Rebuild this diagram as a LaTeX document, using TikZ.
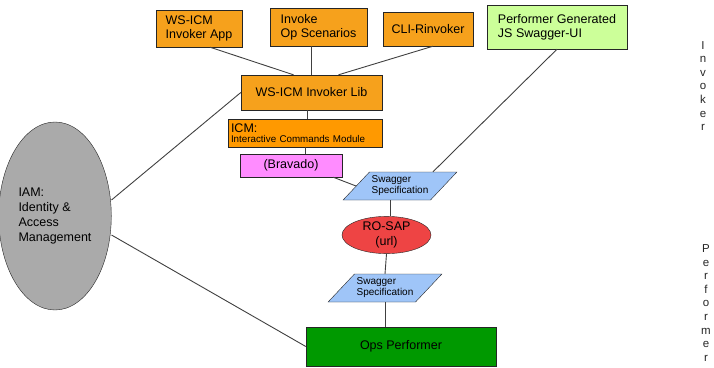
\documentclass[tikz,border=0pt]{standalone}
\usepackage{fontspec}
\setmainfont{Liberation Sans}
\usetikzlibrary{shapes.geometric}
\definecolor{invorange}{HTML}{F6A11C}
\definecolor{icmorange}{HTML}{FF9900}
\definecolor{uigreen}{HTML}{CCFF99}
\definecolor{bravpink}{HTML}{FF8CFF}
\definecolor{specblue}{HTML}{9FC5F8}
\definecolor{sapred}{HTML}{EE4444}
\definecolor{perfgreen}{HTML}{009900}
\definecolor{iamgray}{HTML}{AAAAAA}
\tikzstyle{invoker} = [rectangle, draw=black!85, fill=invorange, align=left, font=\fontsize{12.5}{14}\selectfont]
\tikzstyle{uibox} = [rectangle, draw=black!85, fill=uigreen, align=left, font=\fontsize{12.5}{14}\selectfont]
\tikzstyle{icmbox} = [rectangle, draw=black!85, fill=icmorange, align=left, inner sep=2pt]
\tikzstyle{bravbox} = [rectangle, draw=black!85, fill=bravpink, text centered, font=\fontsize{12.5}{14}\selectfont]
\tikzstyle{spec} = [trapezium, trapezium left angle=41, trapezium right angle=139, trapezium stretches=true, minimum width=114, minimum height=28, draw=black!85, fill=specblue, align=left, inner sep=1pt, font=\fontsize{10}{11}\selectfont]
\tikzstyle{oval} = [ellipse, draw=black!85, font=\fontsize{12.5}{15}\selectfont]
\tikzstyle{perfbox} = [rectangle, draw=black!85, fill=perfgreen, text centered, font=\fontsize{12.5}{14}\selectfont]
\tikzstyle{side} = [align=center, font=\fontsize{11.5}{13.6}\selectfont, text=black!85]
\tikzstyle{link} = [draw=black!75, line width=0.9pt]

\begin{document}
\begin{tikzpicture}[x=1pt, y=-1pt]
		\useasboundingbox (0,0) rectangle (714,367);
		% shapes
		\node (app) [invoker, minimum width=86, minimum height=37] at (199,28.5) {WS-ICM\\Invoker App};
		\node (scen) [invoker, minimum width=97, minimum height=38] at (318.5,27) {Invoke\\Op Scenarios};
		\node (cli) [invoker, minimum width=90, minimum height=34] at (428,29) {CLI-Rinvoker};
		\node (swui) [uibox, minimum width=140, minimum height=44] at (557,27) {Performer Generated\\JS Swagger-UI};
		\node (lib) [invoker, minimum width=141, minimum height=35] at (311.5,92.5) {WS-ICM Invoker Lib};
		\node (icm) [icmbox, minimum width=154, minimum height=28, text width=148] at (305,133) {\fontsize{12.5}{13}\selectfont ICM:\\[-2pt]{\fontsize{9.8}{10}\selectfont Interactive Commands Module}};
		\node (bravado) [bravbox, minimum width=102, minimum height=23] at (291,165.5) {(Bravado)};
		\node (spec1) [spec] at (400,186) {Swagger\\Specification};
		\node (rosap) [oval, fill=sapred, minimum width=89, minimum height=36, align=center, inner sep=0pt] at (386.5,235) {RO-SAP\\(url)};
		\node (spec2) [spec] at (385,288) {Swagger\\Specification};
		\node (opsperf) [perfbox, minimum width=190, minimum height=39] at (401,346.5) {Ops Performer};
		\node (iam) [oval, fill=iamgray, minimum width=94, minimum height=188, align=left] at (55,216) {IAM:\\Identity \&\\Access\\Management};
		\node (invlabel) [side] at (703,86) {I\\n\\v\\o\\k\\e\\r};
		\node (perflabel) [side] at (706,303) {P\\e\\r\\f\\o\\r\\m\\e\\r};

		% connections
		\draw [link] ([xshift=11pt]app.south) -- ([xshift=-18pt]lib.north);
		\draw [link] (lib.north) -- (lib.north |- scen.south);
		\draw [link] ([xshift=5pt]cli.south) -- ([xshift=27pt]lib.north);
		\draw [link] (lib.west) -- ([yshift=16pt]iam.east);
		\draw [link] ([xshift=2pt]icm.north) -- ([xshift=2pt]icm.north |- lib.south);
		\draw [link] (icm.south) -- (icm.south |- bravado.north);
		\draw [link] ([xshift=-9pt]bravado.south east) -- (spec1.west);
		\draw [link] (swui.south) -- ([xshift=33pt]spec1.north);
		\draw [link] ([xshift=4pt]rosap.north) -- ([xshift=4pt]rosap.north |- spec1.south);
		\draw [link] (rosap.south) -- (spec2.north);
		\draw [link] (spec2.south) -- (spec2.south |- opsperf.north);
		\draw [link] ([yshift=-19pt]iam.east) -- (opsperf.west);
	\end{tikzpicture}
\end{document}
